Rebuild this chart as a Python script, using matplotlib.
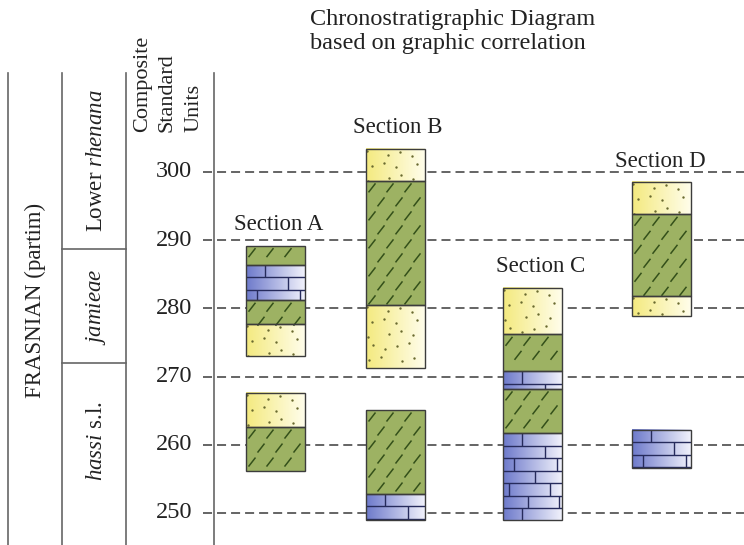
import numpy as np
import matplotlib.pyplot as plt
from matplotlib.colors import LinearSegmentedColormap
from matplotlib.patches import Rectangle
from matplotlib.collections import LineCollection

plt.rcParams['font.family'] = ['Liberation Serif', 'DejaVu Serif']
plt.rcParams['mathtext.fontset'] = 'custom'
plt.rcParams['mathtext.rm'] = 'Liberation Serif'
plt.rcParams['mathtext.it'] = 'Liberation Serif:italic'
plt.rcParams['lines.scale_dashes'] = False

# composite standard units
csu_ticks = [250, 260, 270, 280, 290, 300]
zone_bounds = [272.0, 288.7]
zone_names = [r'$\mathit{hassi}$ s.l.', r'$\mathit{jamieae}$', r'Lower $\mathit{rhenana}$']
stage_name = 'FRASNIAN (partim)'

section_names = ['Section A', 'Section B', 'Section C', 'Section D']
# layers as (lithology, base, top) in composite standard units
section_a = [('shale', 256.2, 262.6), ('sand', 262.6, 267.6),
             ('sand', 273.0, 277.7), ('shale', 277.7, 281.2),
             ('lime', 281.2, 286.4), ('shale', 286.4, 289.2)]
section_b = [('lime', 249.0, 252.8), ('shale', 252.8, 265.1),
             ('sand', 271.3, 280.5), ('shale', 280.5, 298.7),
             ('sand', 298.7, 303.4)]
section_c = [('lime', 249.0, 261.7), ('shale', 261.7, 268.2),
             ('lime', 268.2, 270.8), ('shale', 270.8, 276.2),
             ('sand', 276.2, 283.0)]
section_d = [('lime', 256.6, 262.2),
             ('sand', 278.9, 281.8), ('shale', 281.8, 293.8),
             ('sand', 293.8, 298.5)]
sections = [section_a, section_b, section_c, section_d]

# layout (pixels across, csu up)
W, H = 744, 545
PX = 10 / 68.2          # csu per pixel


def y_of(py):
    return 300 - (py - 172) * PX


col_x = [246, 366, 503, 632]
col_w = 59
lab_x = [279, 398, 541, 660]

fig = plt.figure(figsize=(W / 100, H / 100), dpi=100)
ax = fig.add_axes([0, 0, 1, 1])
ax.set_xlim(0, W)
ax.set_ylim(y_of(H), y_of(0))
ax.axis('off')

sand_cmap = LinearSegmentedColormap.from_list('sand', ['#f4ea80', '#fffdea'])
lime_cmap = LinearSegmentedColormap.from_list('lime', ['#6e7acb', '#f0f1fb'])
green = '#9db263'
edge = '#3c3c3c'


def draw_layer(x0, lith, b, t):
    x1 = x0 + col_w
    rect = Rectangle((x0, b), col_w, t - b, facecolor=green if lith == 'shale' else 'none',
                     edgecolor='none', zorder=2)
    ax.add_patch(rect)
    grad = np.linspace(0, 1, 64).reshape(1, -1)
    if lith == 'sand':
        ax.imshow(grad, extent=(x0, x1, b, t), aspect='auto', cmap=sand_cmap,
                  interpolation='bilinear', zorder=2)
    elif lith == 'lime':
        ax.imshow(grad, extent=(x0, x1, b, t), aspect='auto', cmap=lime_cmap,
                  interpolation='bilinear', zorder=2)
    top_px = (300 - t) / PX + 172
    bot_px = (300 - b) / PX + 172
    segs = []
    if lith == 'shale':
        for i, py in enumerate(np.arange(top_px + 7, bot_px - 2, 14)):
            off = 9 if i % 2 else 0
            for cx in np.arange(x0 + 6 + off, x1 - 2, 18):
                segs.append([(cx - 3.5, y_of(py + 4.5)), (cx + 3.5, y_of(py - 4.5))])
        lc = LineCollection(segs, colors='#34501a', linewidths=1.1, zorder=3)
        lc.set_clip_path(rect)
        ax.add_collection(lc)
    elif lith == 'sand':
        xs, ys = [], []
        for i, py in enumerate(np.arange(top_px + 5, bot_px - 2, 12)):
            for j, cx in enumerate(np.arange(x0 + 5, x1 - 2, 14)):
                xs.append(cx + ((i * 5 + j * 7) % 9) - 4)
                ys.append(y_of(py + ((i * 3 + j * 11) % 7) - 3))
        sc = ax.scatter(xs, ys, s=3, color='#6a6a30', linewidths=0, zorder=3)
        sc.set_clip_path(rect)
    elif lith == 'lime':
        joints = [[0.32], [0.72], [0.18, 0.92], [0.55], [0.1, 0.8], [0.42, 0.95]]
        rows = np.arange(top_px, bot_px, 12.5)
        for k, py in enumerate(rows):
            if k > 0:
                segs.append([(x0, y_of(py)), (x1, y_of(py))])
            pyb = min(py + 12.5, bot_px)
            for f in joints[k % len(joints)]:
                segs.append([(x0 + f * col_w, y_of(py)), (x0 + f * col_w, y_of(pyb))])
        lc = LineCollection(segs, colors='#262b5c', linewidths=1.0, zorder=3)
        lc.set_clip_path(rect)
        ax.add_collection(lc)
    ax.add_patch(Rectangle((x0, b), col_w, t - b, facecolor='none', edgecolor=edge,
                           linewidth=1.0, zorder=4))


# dashed reference lines
for v in csu_ticks:
    ax.plot([203, W], [v, v], color='#4a4a4a', lw=1.2, dashes=(6.5, 3.6), zorder=1)
    ax.text(192, v, str(v), ha='right', va='center', fontsize=17.5, color='#222222')

for x0, name, lx, layers in zip(col_x, section_names, lab_x, sections):
    for lith, b, t in layers:
        draw_layer(x0, lith, b, t)
    top = max(t for _, _, t in layers)
    ax.text(lx, top + 2.3, name, ha='center', va='baseline', fontsize=16.5, color='#222222')

# left frame of stratigraphic columns
for x in [8, 62, 126, 214]:
    ax.plot([x, x], [y_of(73), y_of(H)], color='#666666', lw=1.2, zorder=1)
for zb in zone_bounds:
    ax.plot([62, 126], [zb, zb], color='#666666', lw=1.2, zorder=1)

ax.text(35, y_of(300), stage_name, rotation=90, ha='center', va='center',
        fontsize=16.5, color='#222222')
for name, py in zip(zone_names, [441, 307, 161]):
    ax.text(96, y_of(py), name, rotation=90, ha='center', va='center',
            fontsize=16.5, color='#222222')

for word, x in zip(['Composite', 'Standard', 'Units'], [143, 167, 194]):
    ax.text(x, y_of(132), word, rotation=90, ha='center', va='bottom',
            fontsize=16, color='#222222')

ax.text(310, y_of(9), 'Chronostratigraphic Diagram\nbased on graphic correlation',
        ha='left', va='top', multialignment='left', fontsize=17.5,
        color='#222222', linespacing=1.2)

fig.savefig('out.png', dpi=100)
